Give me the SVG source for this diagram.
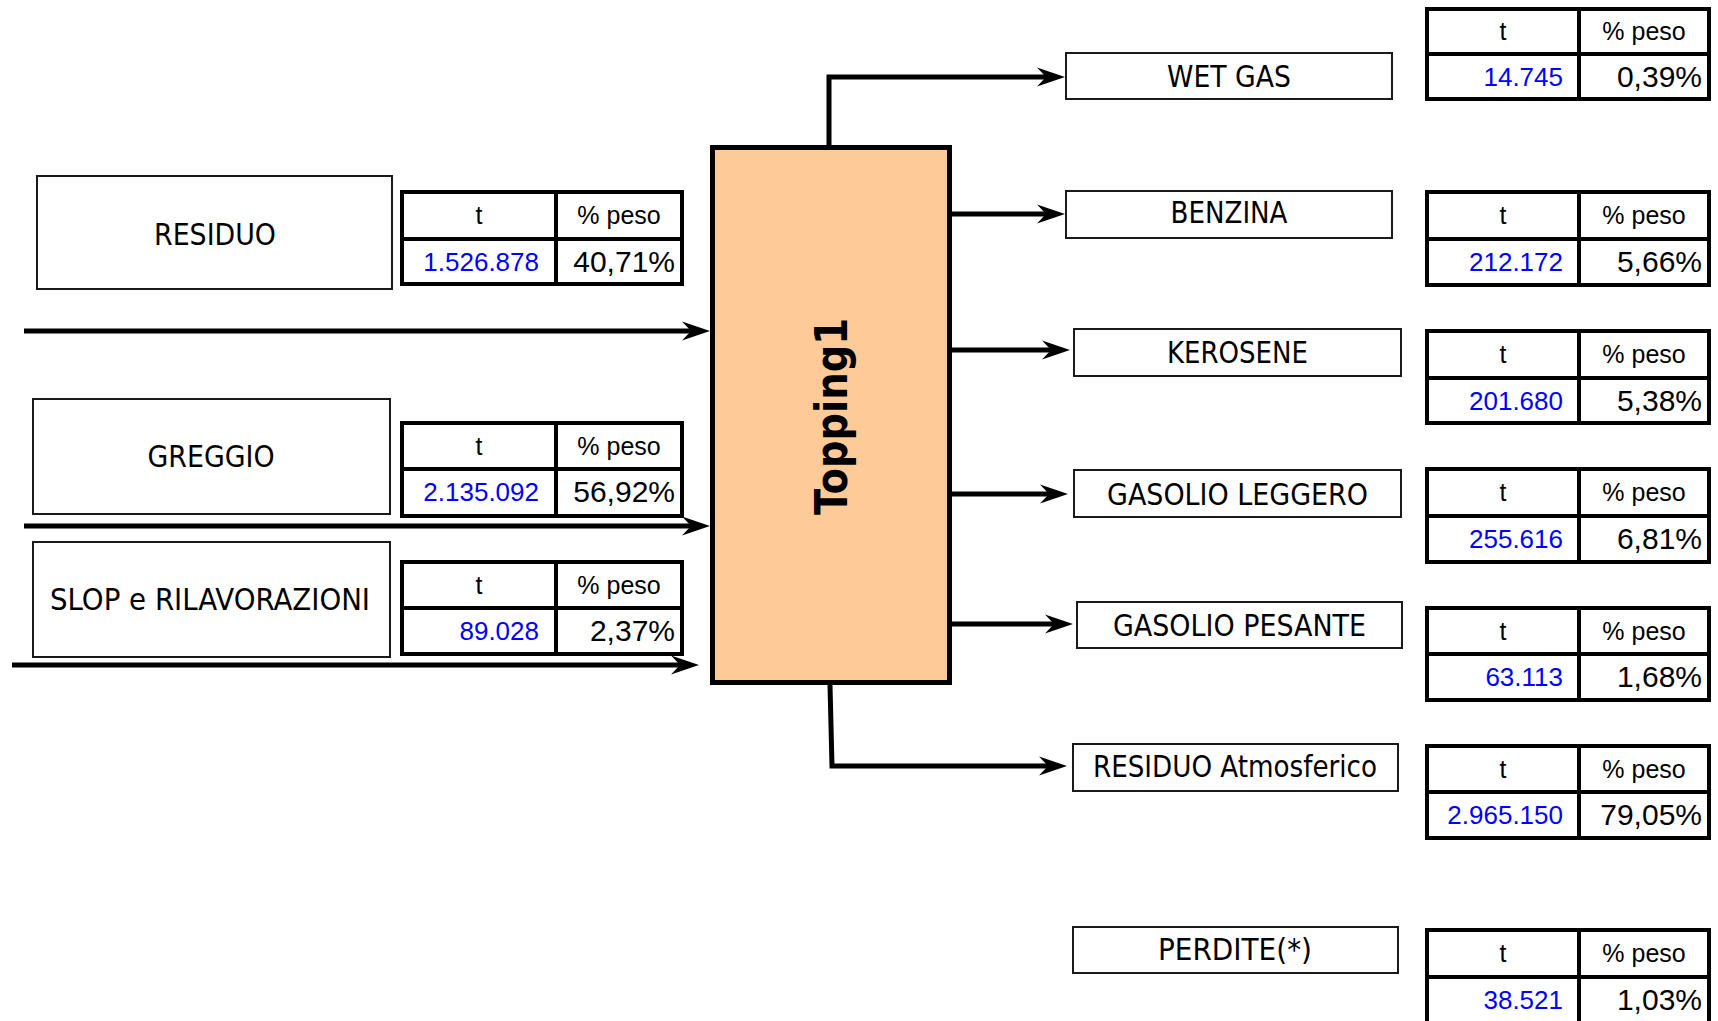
<svg xmlns="http://www.w3.org/2000/svg" width="1718" height="1021" viewBox="0 0 1718 1021">
<defs>
<marker id="arr" markerUnits="userSpaceOnUse" markerWidth="32" markerHeight="22" viewBox="0 -11 32 22" refX="13" refY="0" orient="auto">
<path d="M0,-9.5 L28,0 L0,9.5 L9,0 z" fill="#000"/>
</marker>
<style>
.lbl{fill:#fff;stroke:#1a1a1a;stroke-width:2}
.lt{font-family:"DejaVu Sans Condensed","DejaVu Sans",sans-serif;font-stretch:condensed;font-size:30px;fill:#000;text-anchor:middle}
.tb{fill:#fff;stroke:#000;stroke-width:4}
.tl{stroke:#000;stroke-width:4}
.th{font-family:"Liberation Sans",Arial,sans-serif;font-size:25px;fill:#000;text-anchor:middle}
.tv{font-family:"Liberation Sans",Arial,sans-serif;font-size:26px;fill:#0000ff;text-anchor:end}
.tp{font-family:"Liberation Sans",Arial,sans-serif;font-size:30px;fill:#000;text-anchor:end}
.cn{fill:none;stroke:#000;stroke-width:5;marker-end:url(#arr)}
</style>
</defs>
<rect width="1718" height="1021" fill="#fff"/>

<g id="connectors">
<path class="cn" d="M24,331 H695"/>
<path class="cn" d="M24,526 H695"/>
<path class="cn" d="M12,665 H684"/>
<path class="cn" d="M829,145 V77 H1050"/>
<path class="cn" d="M945,214 H1050"/>
<path class="cn" d="M950,350 H1055"/>
<path class="cn" d="M944,494 H1053"/>
<path class="cn" d="M952,624 H1058"/>
<path class="cn" d="M830,685 L832,766 H1052"/>
</g>

<g id="topping1">
<rect x="712.5" y="147.5" width="237" height="535" fill="#fecb98" stroke="#000" stroke-width="5"/>
<text transform="translate(847,416.5) rotate(-90)" x="0" y="0" text-anchor="middle" font-family="'DejaVu Sans Condensed','DejaVu Sans',sans-serif" font-stretch="condensed" font-weight="bold" font-size="44" textLength="197" lengthAdjust="spacingAndGlyphs">Topping1</text>
</g>

<g id="residuo-in">
<rect class="lbl" x="37" y="176" width="355" height="113"/>
<text class="lt" x="215" y="245" textLength="122" lengthAdjust="spacingAndGlyphs">RESIDUO</text>
</g>
<g id="residuo-in-table">
<rect class="tb" x="402" y="192" width="280" height="92"/>
<line class="tl" x1="402" y1="239" x2="682" y2="239"/>
<line class="tl" x1="556" y1="192" x2="556" y2="284"/>
<text class="th" x="479" y="224">t</text>
<text class="th" x="619" y="224">% peso</text>
<text class="tv" x="539" y="271">1.526.878</text>
<text class="tp" x="675" y="272">40,71%</text>
</g>

<g id="greggio">
<rect class="lbl" x="33" y="399" width="357" height="115"/>
<text class="lt" x="211" y="467" textLength="127" lengthAdjust="spacingAndGlyphs">GREGGIO</text>
</g>
<g id="greggio-table">
<rect class="tb" x="402" y="423" width="280" height="93"/>
<line class="tl" x1="402" y1="469" x2="682" y2="469"/>
<line class="tl" x1="556" y1="423" x2="556" y2="516"/>
<text class="th" x="479" y="455">t</text>
<text class="th" x="619" y="455">% peso</text>
<text class="tv" x="539" y="501">2.135.092</text>
<text class="tp" x="675" y="502">56,92%</text>
</g>

<g id="slop">
<rect class="lbl" x="33" y="542" width="357" height="115"/>
<text class="lt" x="210" y="610" textLength="320" lengthAdjust="spacingAndGlyphs">SLOP e RILAVORAZIONI</text>
</g>
<g id="slop-table">
<rect class="tb" x="402" y="562" width="280" height="92"/>
<line class="tl" x1="402" y1="608" x2="682" y2="608"/>
<line class="tl" x1="556" y1="562" x2="556" y2="654"/>
<text class="th" x="479" y="594">t</text>
<text class="th" x="619" y="594">% peso</text>
<text class="tv" x="539" y="640">89.028</text>
<text class="tp" x="675" y="641">2,37%</text>
</g>

<g id="wetgas">
<rect class="lbl" x="1066" y="53" width="326" height="46"/>
<text class="lt" x="1229" y="87" textLength="124" lengthAdjust="spacingAndGlyphs">WET GAS</text>
</g>
<g id="wetgas-table">
<rect class="tb" x="1427" y="9" width="282" height="90"/>
<line class="tl" x1="1427" y1="54" x2="1709" y2="54"/>
<line class="tl" x1="1579" y1="9" x2="1579" y2="99"/>
<text class="th" x="1503" y="40">t</text>
<text class="th" x="1644" y="40">% peso</text>
<text class="tv" x="1563" y="86">14.745</text>
<text class="tp" x="1702" y="87">0,39%</text>
</g>

<g id="benzina">
<rect class="lbl" x="1066" y="191" width="326" height="47"/>
<text class="lt" x="1229" y="223" textLength="117" lengthAdjust="spacingAndGlyphs">BENZINA</text>
</g>
<g id="benzina-table">
<rect class="tb" x="1427" y="192" width="282" height="93"/>
<line class="tl" x1="1427" y1="239" x2="1709" y2="239"/>
<line class="tl" x1="1579" y1="192" x2="1579" y2="285"/>
<text class="th" x="1503" y="224">t</text>
<text class="th" x="1644" y="224">% peso</text>
<text class="tv" x="1563" y="271">212.172</text>
<text class="tp" x="1702" y="272">5,66%</text>
</g>

<g id="kerosene">
<rect class="lbl" x="1074" y="329" width="327" height="47"/>
<text class="lt" x="1237.5" y="363" textLength="141" lengthAdjust="spacingAndGlyphs">KEROSENE</text>
</g>
<g id="kerosene-table">
<rect class="tb" x="1427" y="331" width="282" height="92"/>
<line class="tl" x1="1427" y1="378" x2="1709" y2="378"/>
<line class="tl" x1="1579" y1="331" x2="1579" y2="423"/>
<text class="th" x="1503" y="363">t</text>
<text class="th" x="1644" y="363">% peso</text>
<text class="tv" x="1563" y="410">201.680</text>
<text class="tp" x="1702" y="411">5,38%</text>
</g>

<g id="gasolio-leggero">
<rect class="lbl" x="1074" y="470" width="327" height="47"/>
<text class="lt" x="1237.5" y="505" textLength="261" lengthAdjust="spacingAndGlyphs">GASOLIO LEGGERO</text>
</g>
<g id="gasolio-leggero-table">
<rect class="tb" x="1427" y="469" width="282" height="93"/>
<line class="tl" x1="1427" y1="516" x2="1709" y2="516"/>
<line class="tl" x1="1579" y1="469" x2="1579" y2="562"/>
<text class="th" x="1503" y="501">t</text>
<text class="th" x="1644" y="501">% peso</text>
<text class="tv" x="1563" y="548">255.616</text>
<text class="tp" x="1702" y="549">6,81%</text>
</g>

<g id="gasolio-pesante">
<rect class="lbl" x="1077" y="602" width="325" height="46"/>
<text class="lt" x="1239.5" y="636" textLength="253" lengthAdjust="spacingAndGlyphs">GASOLIO PESANTE</text>
</g>
<g id="gasolio-pesante-table">
<rect class="tb" x="1427" y="608" width="282" height="92"/>
<line class="tl" x1="1427" y1="654" x2="1709" y2="654"/>
<line class="tl" x1="1579" y1="608" x2="1579" y2="700"/>
<text class="th" x="1503" y="640">t</text>
<text class="th" x="1644" y="640">% peso</text>
<text class="tv" x="1563" y="686">63.113</text>
<text class="tp" x="1702" y="687">1,68%</text>
</g>

<g id="residuo-atmosferico">
<rect class="lbl" x="1073" y="744" width="325" height="47"/>
<text class="lt" x="1235" y="777" textLength="284" lengthAdjust="spacingAndGlyphs">RESIDUO Atmosferico</text>
</g>
<g id="residuo-atmosferico-table">
<rect class="tb" x="1427" y="746" width="282" height="92"/>
<line class="tl" x1="1427" y1="792" x2="1709" y2="792"/>
<line class="tl" x1="1579" y1="746" x2="1579" y2="838"/>
<text class="th" x="1503" y="778">t</text>
<text class="th" x="1644" y="778">% peso</text>
<text class="tv" x="1563" y="824">2.965.150</text>
<text class="tp" x="1702" y="825">79,05%</text>
</g>

<g id="perdite">
<rect class="lbl" x="1073" y="927" width="325" height="46"/>
<text class="lt" x="1235" y="960" textLength="154" lengthAdjust="spacingAndGlyphs">PERDITE(*)</text>
</g>
<g id="perdite-table">
<rect class="tb" x="1427" y="930" width="282" height="94"/>
<line class="tl" x1="1427" y1="977" x2="1709" y2="977"/>
<line class="tl" x1="1579" y1="930" x2="1579" y2="1024"/>
<text class="th" x="1503" y="962">t</text>
<text class="th" x="1644" y="962">% peso</text>
<text class="tv" x="1563" y="1009">38.521</text>
<text class="tp" x="1702" y="1010">1,03%</text>
</g>
</svg>
